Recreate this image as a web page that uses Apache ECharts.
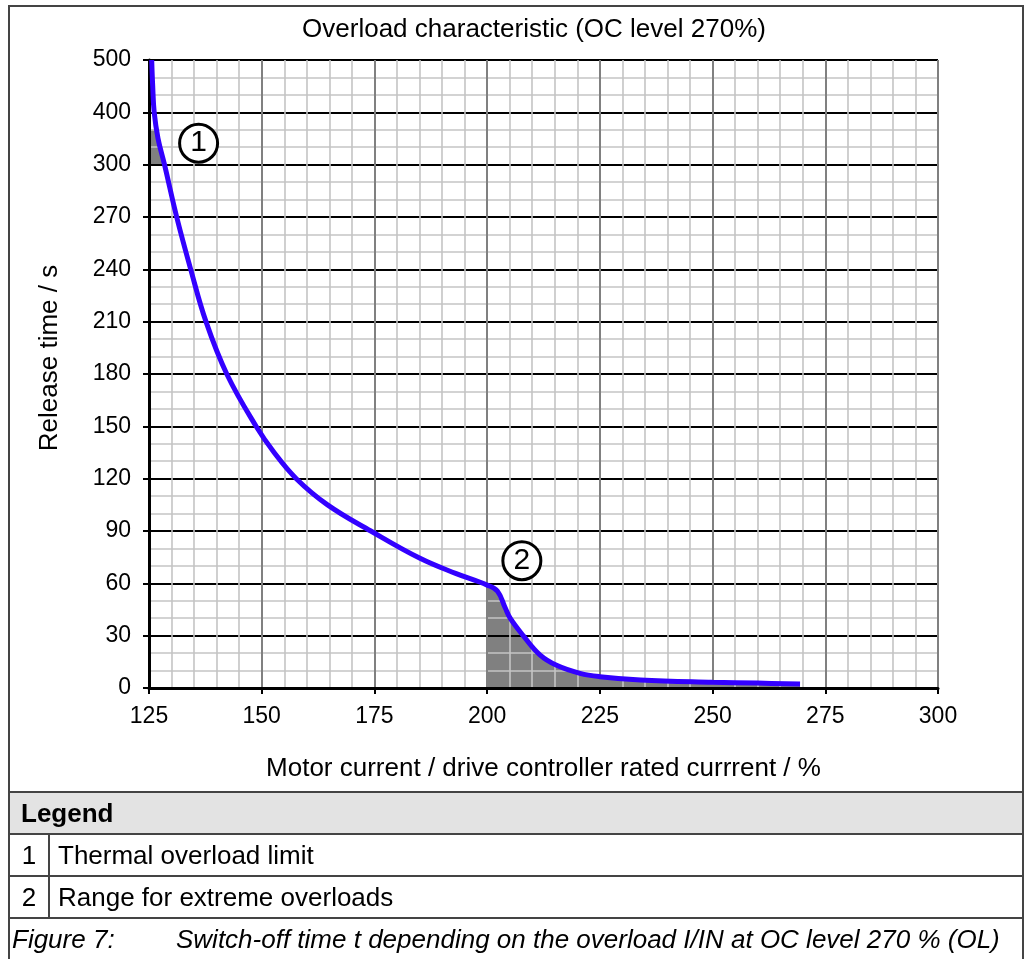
<!DOCTYPE html>
<html>
<head>
<meta charset="utf-8">
<script src="https://cdn.jsdelivr.net/npm/echarts@6/dist/echarts.min.js"></script>
<style>
  html, body { margin: 0; padding: 0; background: #fff; }
  body { width: 1035px; height: 959px; position: relative; overflow: hidden; font-family: 'Liberation Sans', Arial, sans-serif; }
  #frame { position: absolute; left: 8px; top: 5px; width: 1016px; height: 1000px; border: 2px solid #444; box-sizing: border-box; }
  #chart { position: absolute; left: 0; top: 0; width: 1035px; height: 792px; }
  #legend { position: absolute; left: 8px; top: 791px; width: 1016px; border-collapse: collapse; font-size: 26px; color: #000; }
  #legend td { border: 2px solid #444; padding: 0 0 0 8px; height: 40px; }
  #legend .hd { background: #e3e3e3; font-weight: bold; padding-left: 11px; }
  #legend .n { width: 38px; text-align: center; padding: 0; }
  #legend .cap { font-style: italic; padding-left: 2px; border-bottom: none; }
  #legend .cap span { display: inline-block; width: 164px; }
</style>
</head>
<body>
<div id="frame"></div>
<div id="chart"></div>
<table id="legend">
  <tr><td class="hd" colspan="2">Legend</td></tr>
  <tr><td class="n">1</td><td>Thermal overload limit</td></tr>
  <tr><td class="n">2</td><td>Range for extreme overloads</td></tr>
  <tr><td class="cap" colspan="2"><span>Figure 7:</span>Switch-off time t depending on the overload I/IN at OC level 270 % (OL)</td></tr>
</table>
<script>
// release time curve (x = current %, y = seconds)
var curveX = [125.6, 125.82, 126.15, 127.0, 128.44, 131.14, 134.25, 137.64, 142.25, 148.75, 152.75, 157.67, 164.6, 174.2, 185, 193, 200, 202.3, 204, 205.1, 208, 211.7, 215.4, 220.6, 225, 234, 250, 260, 269.4]
var curveY = [500, 450, 400, 350, 300, 270, 240, 210, 180, 150, 135, 120, 105, 90, 74.5, 65.7, 59, 55.5, 46, 40, 30, 19, 13, 8.4, 6.5, 4.6, 3.3, 2.8, 2.3]

// shaded area 1 (thermal overload limit)
var zone1X = [125, 128.44, 127.0, 126.7, 125]
var zone1Y = [300, 300, 350, 367, 367]

// circled markers
var markX = [136.0, 207.7]
var markY = [341, 73]
var markText = ['1', '2']

var yTickLabels = ['0', '30', '60', '90', '120', '150', '180', '210', '240', '270', '300', '400', '500']

// y axis is stepped: 30 s per step up to 300, then 100 s per step
function toIdx (v) {
  return v <= 300 ? v / 30 : 10 + (v - 300) / 100
}

var curveData = curveX.map(function (x, i) { return [x, toIdx(curveY[i])] })
var zone2Data = curveData.filter(function (p) { return p[0] >= 200 })
var zone1Data = zone1X.map(function (x, i) { return [x, toIdx(zone1Y[i])] })
var markData = markX.map(function (x, i) { return [x, toIdx(markY[i])] })

var font = "'Liberation Sans', Arial, sans-serif"
var myChart = echarts.init(document.getElementById('chart'))

var option = {
  animation: false,
  title: {
    text: 'Overload characteristic (OC level 270%)',
    left: 529,
    top: 12,
    textAlign: 'center',
    textStyle: { fontFamily: font, fontSize: 26, fontWeight: 'normal', color: '#000' }
  },
  grid: { left: 149, right: 97, top: 60, bottom: 104 },
  xAxis: {
    type: 'value',
    min: 125,
    max: 300,
    interval: 25,
    z: 5,
    name: 'Motor current / drive controller rated currrent / %',
    nameLocation: 'middle',
    nameGap: 68,
    nameTextStyle: { fontFamily: font, fontSize: 26, color: '#000' },
    axisLine: { show: true, lineStyle: { color: '#000', width: 3 } },
    axisTick: { show: true, length: 6, lineStyle: { color: '#000', width: 2 } },
    axisLabel: { fontFamily: font, fontSize: 23, color: '#000', margin: 17 },
    splitLine: { show: true, lineStyle: { color: '#808080', width: 2 } },
    minorTick: { show: false, splitNumber: 5 },
    minorSplitLine: { show: true, lineStyle: { color: '#c4c4c4', width: 1.6 } }
  },
  yAxis: {
    type: 'value',
    min: 0,
    max: 12,
    interval: 1,
    z: 5,
    name: 'Release time / s',
    nameLocation: 'middle',
    nameGap: 86,
    nameTextStyle: { fontFamily: font, fontSize: 26, color: '#000', padding: [0, 0, 0, 32] },
    axisLine: { show: true, lineStyle: { color: '#000', width: 3 } },
    axisTick: { show: true, length: 6, lineStyle: { color: '#000', width: 2 } },
    axisLabel: {
      fontFamily: font, fontSize: 23, color: '#000', margin: 18,
      formatter: function (v) { return yTickLabels[Math.round(v)] }
    },
    splitLine: { show: true, lineStyle: { color: '#000', width: 2 } },
    minorTick: { show: false, splitNumber: 3 },
    minorSplitLine: { show: true, lineStyle: { color: '#c4c4c4', width: 1.6 } }
  },
  series: [
    {
      type: 'custom',
      z: 1,
      data: [0],
      renderItem: function (params, api) {
        return {
          type: 'polygon',
          shape: { points: zone1Data.map(function (p) { return api.coord(p) }) },
          style: { fill: '#808080' }
        }
      }
    },
    {
      type: 'line',
      z: 1,
      data: zone2Data,
      smooth: 0.4,
      symbol: 'none',
      lineStyle: { width: 0 },
      areaStyle: { color: '#808080', opacity: 1 }
    },
    {
      type: 'line',
      z: 10,
      data: curveData,
      smooth: 0.4,
      symbol: 'none',
      lineStyle: { color: '#3300ff', width: 5 }
    },
    {
      type: 'scatter',
      z: 11,
      data: markData,
      symbol: 'circle',
      symbolSize: 38,
      itemStyle: { color: '#fff', borderColor: '#000', borderWidth: 3, opacity: 1 },
      label: {
        show: true,
        position: 'inside',
        fontFamily: font,
        fontSize: 30,
        color: '#000',
        formatter: function (p) { return markText[p.dataIndex] }
      }
    }
  ]
}
myChart.setOption(option, true)
</script>
</body>
</html>
